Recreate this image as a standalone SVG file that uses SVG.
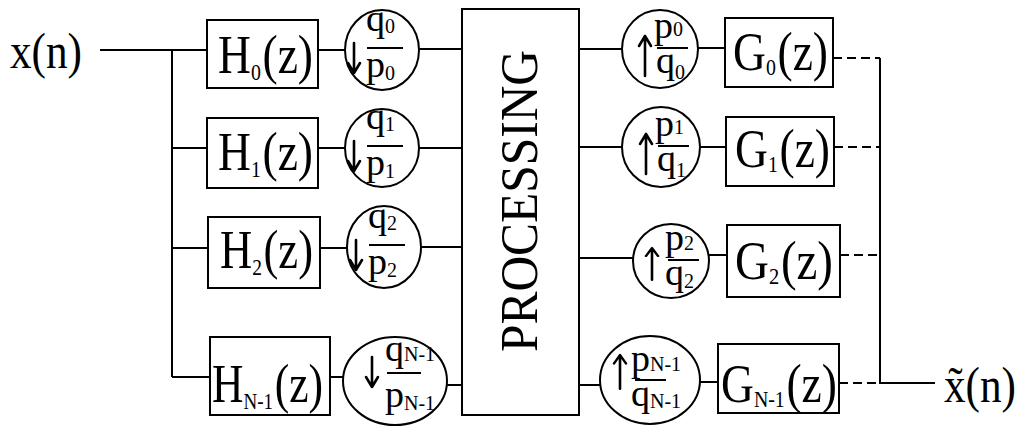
<svg xmlns="http://www.w3.org/2000/svg" width="1024" height="426" viewBox="0 0 1024 426">
<style>
.ln{stroke:#000;stroke-width:2;fill:none}
.dl{stroke:#000;stroke-width:2;fill:none;stroke-dasharray:9 5}
.bx{stroke:#000;stroke-width:2;fill:#fff}
.arw{stroke:#000;stroke-width:2.6;fill:none;stroke-linecap:round;stroke-linejoin:round}
.t{font-family:"Liberation Serif","Times New Roman",serif;fill:#000}
.big{font-size:55px}
.sub{font-size:24px}
.fr{font-size:38px}
.fs{font-size:20px}
</style>
<defs>
<path id="dn" d="M0,-15V15M-6,5L0,15L6,5"/>
<path id="up" d="M0,20V-20M-6,-10L0,-20L6,-10"/>
</defs>
<rect width="1024" height="426" fill="#fff"/>
<g id="connectors">
<path class="ln" d="M100,50H172V377M172,50H207M172,148H207M172,248H208M172,377H210"/>
<path class="ln" d="M318,50H345M318,148H345M320,248H347M330,377H343"/>
<path class="ln" d="M419,49H462M419,148H462M421,247H462M447,385H462"/>
<path class="ln" d="M579,49H622M579,147H622M579,258H633M579,385H600"/>
<path class="ln" d="M698,48H725M700,147H726M709,255H727M700,382H718"/>
<path class="dl" d="M833,58H880M834,147H880M840,255H880M839,383H880"/>
<path class="ln" d="M880,58V383H935"/>
</g>
<g id="input"><text class="t" x="10" y="68" font-size="50" textLength="72" lengthAdjust="spacingAndGlyphs">x(n)</text></g>
<g id="output"><text class="t" x="944" y="402" font-size="50" textLength="72" lengthAdjust="spacingAndGlyphs">x̃(n)</text></g>
<g id="H0"><rect class="bx" x="207" y="20" width="111" height="68"/><text class="t big" x="218" y="73" textLength="95" lengthAdjust="spacingAndGlyphs">H<tspan class="sub" dy="7">0</tspan><tspan dx="2" dy="-7">(z)</tspan></text></g>
<g id="H1"><rect class="bx" x="207" y="118" width="111" height="70"/><text class="t big" x="218" y="170" textLength="95" lengthAdjust="spacingAndGlyphs">H<tspan class="sub" dy="7">1</tspan><tspan dx="2" dy="-7">(z)</tspan></text></g>
<g id="H2"><rect class="bx" x="208" y="217" width="112" height="71"/><text class="t big" x="220" y="268" textLength="93" lengthAdjust="spacingAndGlyphs">H<tspan class="sub" dy="7">2</tspan><tspan dx="2" dy="-7">(z)</tspan></text></g>
<g id="HN"><rect class="bx" x="210" y="337" width="120" height="78"/><text class="t big" x="212" y="402" textLength="111" lengthAdjust="spacingAndGlyphs">H<tspan class="sub" dy="7">N-1</tspan><tspan dx="2" dy="-7">(z)</tspan></text></g>
<g id="D0"><ellipse class="ln" cx="382" cy="50" rx="37" ry="40"/><use href="#dn" class="arw" x="354" y="58"/><text class="t fr" x="366" y="31">q<tspan class="fs" dy="2">0</tspan></text><path class="ln" d="M367,48H403"/><text class="t fr" x="366" y="77">p<tspan class="fs" dy="3">0</tspan></text></g>
<g id="D1"><ellipse class="ln" cx="382" cy="148" rx="37" ry="39"/><use href="#dn" class="arw" x="354" y="156"/><text class="t fr" x="366" y="129">q<tspan class="fs" dy="2">1</tspan></text><path class="ln" d="M367,146H403"/><text class="t fr" x="366" y="175">p<tspan class="fs" dy="3">1</tspan></text></g>
<g id="D2"><ellipse class="ln" cx="384" cy="247" rx="37" ry="41"/><use href="#dn" class="arw" x="356" y="255"/><text class="t fr" x="368" y="228">q<tspan class="fs" dy="2">2</tspan></text><path class="ln" d="M369,245H405"/><text class="t fr" x="368" y="274">p<tspan class="fs" dy="3">2</tspan></text></g>
<g id="DN"><ellipse class="ln" cx="395" cy="381" rx="52" ry="44"/><use href="#dn" class="arw" x="372" y="372"/><text class="t fr" x="385" y="361">q<tspan class="fs" dy="0">N-1</tspan></text><path class="ln" d="M387,373H421"/><text class="t fr" x="385" y="407">p<tspan class="fs" dy="3">N-1</tspan></text></g>
<g id="PROC"><rect class="bx" x="462" y="9" width="117" height="406"/><text class="t" transform="translate(537,201) rotate(-90)" text-anchor="middle" font-size="52" textLength="302" lengthAdjust="spacingAndGlyphs">PROCESSING</text></g>
<g id="U0"><ellipse class="ln" cx="660" cy="49" rx="38" ry="39"/><use href="#up" class="arw" x="645" y="56"/><text class="t fr" x="654" y="38">p<tspan class="fs" dy="-2">0</tspan></text><path class="ln" d="M657,48H688"/><text class="t fr" x="656" y="73">q<tspan class="fs" dy="6">0</tspan></text></g>
<g id="U1"><ellipse class="ln" cx="661" cy="147" rx="39" ry="40"/><use href="#up" class="arw" x="646" y="154"/><text class="t fr" x="655" y="136">p<tspan class="fs" dy="-2">1</tspan></text><path class="ln" d="M658,146H689"/><text class="t fr" x="657" y="171">q<tspan class="fs" dy="6">1</tspan></text></g>
<g id="U2"><ellipse class="ln" cx="671" cy="261" rx="38" ry="37"/><use href="#up" class="arw" x="652" y="264" transform="translate(652,264) scale(1,0.8) translate(-652,-264)"/><text class="t fr" x="665" y="250">p<tspan class="fs" dy="0">2</tspan></text><path class="ln" d="M668,260H699"/><text class="t fr" x="665" y="285">q<tspan class="fs" dy="3">2</tspan></text></g>
<g id="UN"><ellipse class="ln" cx="650" cy="380" rx="50" ry="44"/><use href="#up" class="arw" x="620" y="372" transform="translate(620,372) scale(1,0.85) translate(-620,-372)"/><text class="t fr" x="631" y="371">p<tspan class="fs" dy="0">N-1</tspan></text><path class="ln" d="M635,380H666"/><text class="t fr" x="631" y="406">q<tspan class="fs" dy="2">N-1</tspan></text></g>
<g id="G0"><rect class="bx" x="725" y="18" width="108" height="69"/><text class="t big" x="733" y="70" textLength="95" lengthAdjust="spacingAndGlyphs">G<tspan class="sub" dy="5">0</tspan><tspan dx="2" dy="-5">(z)</tspan></text></g>
<g id="G1"><rect class="bx" x="726" y="117" width="108" height="69"/><text class="t big" x="735" y="167" textLength="95" lengthAdjust="spacingAndGlyphs">G<tspan class="sub" dy="5">1</tspan><tspan dx="2" dy="-5">(z)</tspan></text></g>
<g id="G2"><rect class="bx" x="727" y="225" width="113" height="72"/><text class="t big" x="735" y="279" textLength="98" lengthAdjust="spacingAndGlyphs">G<tspan class="sub" dy="5">2</tspan><tspan dx="2" dy="-5">(z)</tspan></text></g>
<g id="GN"><rect class="bx" x="718" y="344" width="121" height="69"/><text class="t big" x="721" y="402" textLength="116" lengthAdjust="spacingAndGlyphs">G<tspan class="sub" dy="5">N-1</tspan><tspan dx="2" dy="-5">(z)</tspan></text></g>
</svg>
